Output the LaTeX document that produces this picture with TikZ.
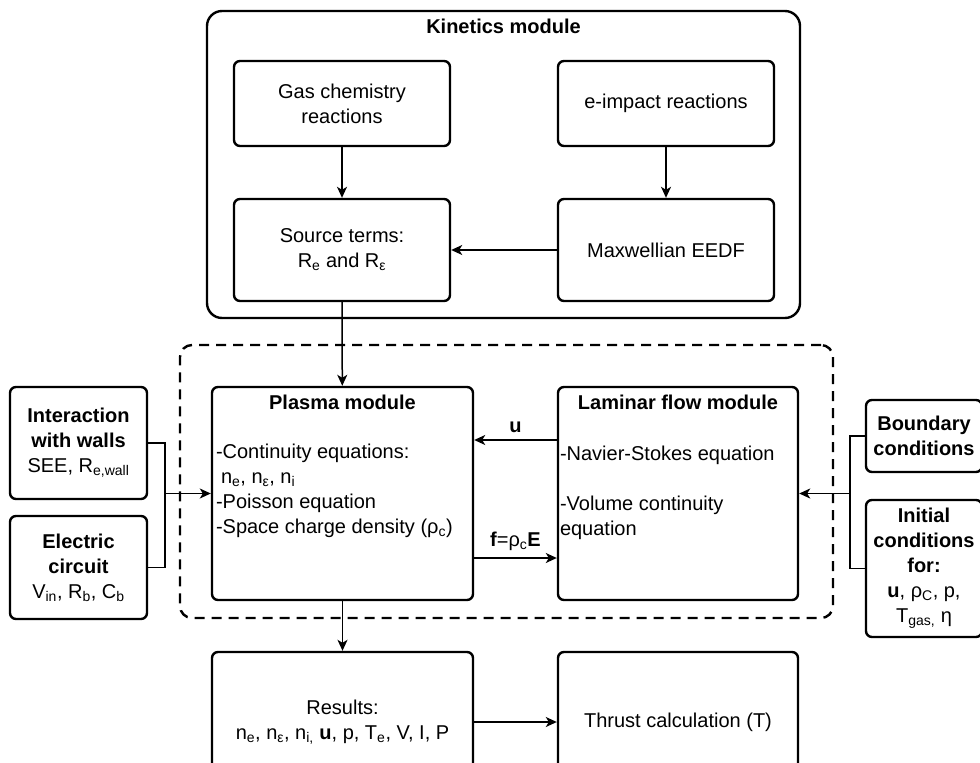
\documentclass[tikz,border=0pt]{standalone}
\usepackage{fontspec}
\setmainfont{Liberation Sans}
\usetikzlibrary{calc}
\usetikzlibrary{arrows.meta}

\begin{document}
\begin{tikzpicture}[x=1pt, y=-1pt,
  font=\fontsize{20}{25}\selectfont,
  box/.style={draw, line width=2.4pt, rounded corners=6pt, align=center, inner sep=1pt},
  body/.style={anchor=north west, align=left, inner sep=0pt},
  link/.style={line width=1.5pt, -{Stealth[length=11pt,width=10pt,inset=3pt]}},
  wire/.style={line width=1.5pt}]
\useasboundingbox (0,0) rectangle (980,763);
\clip (0,0) rectangle (980,763);
% kinetics part
\node[box, rounded corners=15pt, minimum width=593pt, minimum height=307pt] (kin) at (503.5,164.5) {};
\node[font=\fontsize{20}{25}\selectfont\bfseries] (kinhead) at ($(kin.north)+(0,17)$) {Kinetics module};
\node[box, minimum width=216pt, minimum height=85pt] (gas) at (342,103.5) {Gas chemistry\\reactions};
\node[box, minimum width=216pt, minimum height=85pt] (eimp) at (666,103.5) {e-impact reactions};
\node[box, minimum width=216pt, minimum height=102pt] (src) at (342,250) {Source terms:\\R\textsubscript{e} and R\textsubscript{ε}};
\node[box, minimum width=216pt, minimum height=102pt] (maxw) at (666,250) {Maxwellian EEDF};
\draw[link] (gas) -- (src);
\draw[link] (eimp) -- (maxw);
\draw[link] (maxw) -- (src);
% coupled part
\node[draw, line width=2.4pt, dash pattern=on 10pt off 7pt, rounded corners=12pt,
  minimum width=653pt, minimum height=273pt] (cpl) at (506.5,481.5) {};
\node[box, minimum width=261pt, minimum height=213pt] (pla) at (342.5,493.5) {};
\node[font=\fontsize{20}{25}\selectfont\bfseries] (plahead) at ($(pla.north)+(0,17)$) {Plasma module};
\node[body] (plabody) at ($(pla.north west)+(5,58)$) {-Continuity equations:\\
  \hspace*{5pt}n\textsubscript{e}, n\textsubscript{ε}, n\textsubscript{i}\\
  -Poisson equation\\
  -Space charge density (ρ\textsubscript{c})};
\node[box, minimum width=240pt, minimum height=213pt] (lam) at (678,493.5) {};
\node[font=\fontsize{20}{25}\selectfont\bfseries] (lamhead) at ($(lam.north)+(0,17)$) {Laminar flow module};
\node[body] (lambody) at ($(lam.north west)+(3,60)$) {-Navier-Stokes equation\\[25pt]
  -Volume continuity\\
  equation};
\draw[link] (src) -- (pla);
\draw[link] ([yshift=53.5pt]lam.west) -- node[above=3pt, font=\fontsize{20}{25}\selectfont\bfseries] (ulab) {u} ([yshift=53.5pt]pla.east);
\draw[link] ([yshift=-64.5pt]pla.east) -- node[above=3pt] (flab) {\textbf{f}=ρ\textsubscript{c}\textbf{E}} ([yshift=-64.5pt]lam.west);
% inputs on the left
\node[box, minimum width=137pt, minimum height=112pt] (walls) at (78.5,443) {\textbf{Interaction}\\\textbf{with walls}\\SEE, R\textsubscript{e,wall}};
\node[box, minimum width=137pt, minimum height=103pt] (circ) at (78.5,567.5) {\textbf{Electric}\\\textbf{circuit}\\V\textsubscript{in}, R\textsubscript{b}, C\textsubscript{b}};
\coordinate (jl) at (165,493.5);
\draw[wire] (walls.east) -| (jl) |- (circ.east);
\draw[link] (jl) -- (pla.west);
% inputs on the right
\node[box, minimum width=116pt, minimum height=72pt] (bnd) at (924,436) {\textbf{Boundary}\\\textbf{conditions}};
\node[box, minimum width=116pt, minimum height=137pt] (ini) at (924,568.5) {\textbf{Initial}\\\textbf{conditions}\\\textbf{for:}\\\textbf{u}, ρ\textsubscript{C}, p,\\T\textsubscript{gas,} η};
\coordinate (jr) at (850,493.5);
\draw[wire] (bnd.west) -| (jr) |- (ini.west);
\draw[link] (jr) -- (lam.east);
% output
\node[box, minimum width=261pt, minimum height=140pt] (res) at (342.5,722) {Results:\\n\textsubscript{e}, n\textsubscript{ε}, n\textsubscript{i,} \textbf{u}, p, T\textsubscript{e}, V, I, P};
\node[box, minimum width=240pt, minimum height=140pt] (thr) at (678,722) {Thrust calculation (T)};
\draw[link] (pla) -- (res);
\draw[link] (res) -- (thr);
\end{tikzpicture}
\end{document}
